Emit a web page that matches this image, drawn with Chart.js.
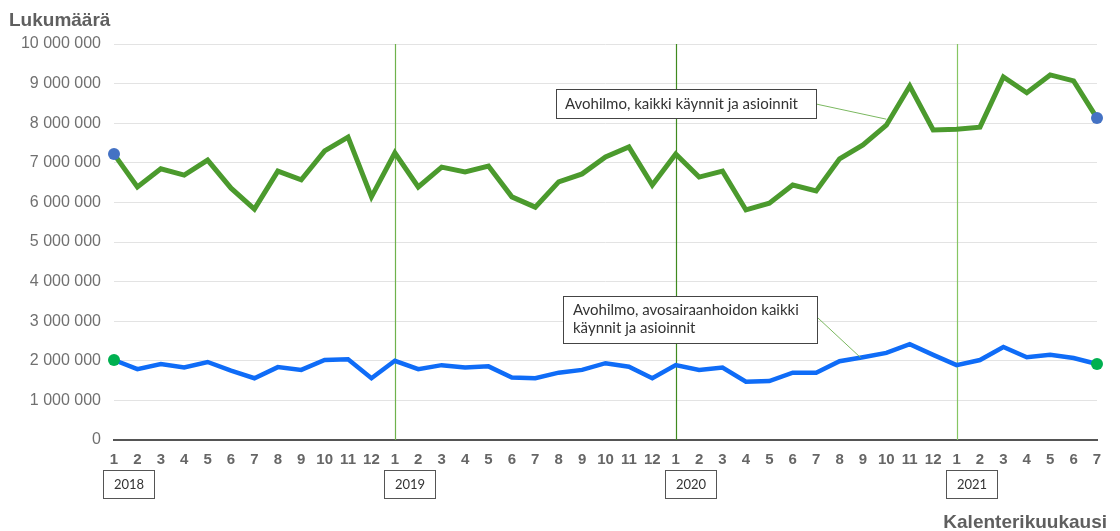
<!DOCTYPE html>
<html>
<head>
<meta charset="utf-8">
<script src="https://cdn.jsdelivr.net/npm/chart.js@4"></script>
<style>
  body { margin:0; background:#fff; }
  #wrap { width:1120px; height:531px; position:relative; }
</style>
</head>
<body>
<div id="wrap"><canvas id="myChart"></canvas></div>
<script>
// kuukaudet 1/2018 - 7/2021
const months = ['1','2','3','4','5','6','7','8','9','10','11','12',
                '1','2','3','4','5','6','7','8','9','10','11','12',
                '1','2','3','4','5','6','7','8','9','10','11','12',
                '1','2','3','4','5','6','7'];
const years = ['2018','2019','2020','2021'];
const yearStart = [0,12,24,36];   // index of month 1 for each year

// Avohilmo, kaikki käynnit ja asioinnit
const kaikki = [7220000,6390000,6850000,6690000,7070000,6360000,5830000,6790000,6570000,7300000,7650000,6140000,
                7250000,6390000,6890000,6770000,6920000,6140000,5880000,6520000,6720000,7150000,7400000,6440000,
                7220000,6640000,6790000,5810000,5980000,6440000,6290000,7100000,7450000,7950000,8940000,7830000,
                7850000,7900000,9170000,8770000,9220000,9070000,8130000];
// Avohilmo, avosairaanhoidon kaikki käynnit ja asioinnit
const avosh = [2020000,1790000,1920000,1830000,1970000,1750000,1560000,1840000,1770000,2020000,2040000,1560000,
               2000000,1790000,1890000,1830000,1860000,1580000,1560000,1700000,1770000,1940000,1850000,1560000,
               1890000,1770000,1830000,1470000,1490000,1700000,1700000,1990000,2090000,2200000,2420000,2150000,
               1890000,2020000,2350000,2090000,2150000,2070000,1920000];

const label1 = 'Avohilmo, kaikki käynnit ja asioinnit';
const label2 = ['Avohilmo, avosairaanhoidon kaikki', 'käynnit ja asioinnit'];

function endRadius(ctx) {
  const n = ctx.dataset.data.length;
  return (ctx.dataIndex === 0 || ctx.dataIndex === n-1) ? 6 : 0;
}

const extras = {
  id: 'extras',
  beforeDatasetsDraw(chart) {
    const c = chart.ctx, a = chart.chartArea, x = chart.scales.x;
    const cols = ['#6fb24c','#3f8a1f','#86c663'];
    c.save();
    c.lineWidth = 1.2;
    for (let i = 1; i < yearStart.length; i++) {
      const px = Math.round(x.getPixelForValue(yearStart[i])) + 0.5;
      c.strokeStyle = cols[i-1];
      c.beginPath(); c.moveTo(px, a.top); c.lineTo(px, a.bottom); c.stroke();
    }
    c.restore();
  },
  afterDraw(chart) {
    const c = chart.ctx, a = chart.chartArea, x = chart.scales.x, y = chart.scales.y;
    c.save();
    // year boxes
    c.font = '13px Lato';
    c.textAlign = 'center'; c.textBaseline = 'middle';
    for (let i = 0; i < years.length; i++) {
      const px = Math.round(x.getPixelForValue(yearStart[i]));
      const bx = px - 11 + 0.5, by = a.bottom + 30.5;
      c.strokeStyle = '#555'; c.lineWidth = 1;
      c.strokeRect(bx, by, 51, 28);
      c.fillStyle = '#333';
      c.fillText(years[i], bx + 25.5, by + 14.5);
    }
    // annotation 1
    c.font = '15px Lato';
    c.textAlign = 'left'; c.textBaseline = 'alphabetic';
    let p = {x: x.getPixelForValue(33), y: y.getPixelForValue(kaikki[33]) - 6};
    c.strokeStyle = '#7bb860'; c.lineWidth = 1;
    c.beginPath(); c.moveTo(816, 104); c.lineTo(p.x, p.y); c.stroke();
    c.fillStyle = '#fff'; c.fillRect(556.5, 89.5, 260, 29);
    c.strokeStyle = '#444'; c.strokeRect(556.5, 89.5, 260, 29);
    c.fillStyle = '#333'; c.fillText(label1, 565, 109);
    // annotation 2
    const px1 = x.getPixelForValue(31), px2 = x.getPixelForValue(32);
    const py1 = y.getPixelForValue(avosh[31]), py2 = y.getPixelForValue(avosh[32]);
    p = {x: px1 + (px2-px1)*0.9, y: py1 + (py2-py1)*0.9};
    c.strokeStyle = '#7bb860';
    c.beginPath(); c.moveTo(818, 318); c.lineTo(p.x, p.y); c.stroke();
    c.fillStyle = '#fff'; c.fillRect(563.5, 296.5, 254, 47);
    c.strokeStyle = '#444'; c.strokeRect(563.5, 296.5, 254, 47);
    c.fillStyle = '#333';
    c.fillText(label2[0], 573, 315);
    c.fillText(label2[1], 573, 333);
    // axis titles
    c.font = 'bold 19px "Liberation Sans", Arial';
    c.fillStyle = '#5f5f5f';
    c.textAlign = 'left';
    c.fillText('Lukumäärä', 9, 26);
    c.textAlign = 'right';
    c.fillText('Kalenterikuukausi', 1107, 528);
    c.restore();
  }
};

const ctx = document.getElementById('myChart').getContext('2d');
const myChart = new Chart(ctx, {
  type: 'line',
  data: {
    labels: months,
    datasets: [{
      label: label1,
      data: kaikki,
      borderColor: '#4b9a2d',
      borderWidth: 5,
      pointRadius: endRadius,
      pointBackgroundColor: '#4472c4',
      pointBorderWidth: 0,
      tension: 0
    }, {
      label: label2.join(' '),
      data: avosh,
      borderColor: '#0f6cf7',
      borderWidth: 4.5,
      pointRadius: endRadius,
      pointBackgroundColor: '#00b050',
      pointBorderWidth: 0,
      tension: 0
    }]
  },
  options: {
    responsive: true,
    maintainAspectRatio: false,
    animation: false,
    layout: { padding: { top: 44, right: 23, left: 0, bottom: 0 } },
    plugins: { legend: { display: false }, tooltip: { enabled: false } },
    scales: {
      x: {
        offset: false,
        grid: { display: false },
        border: { display: true, color: '#555', width: 2 },
        ticks: {
          autoSkip: false, maxRotation: 0, padding: 3,
          color: '#666',
          font: { family: '"Liberation Sans", Arial', size: 15, weight: 'bold' }
        },
        afterFit(scale) { scale.height = 91; }
      },
      y: {
        min: 0, max: 10000000,
        grid: { color: '#e3e3e3', drawTicks: false },
        border: { display: false },
        ticks: {
          stepSize: 1000000, padding: 13,
          color: '#707070',
          font: { family: '"Liberation Sans", Arial', size: 16 },
          callback: v => String(v).replace(/\B(?=(\d{3})+(?!\d))/g, ' ')
        },
        afterFit(scale) { scale.width = 114; }
      }
    }
  },
  plugins: [extras]
});
</script>
</body>
</html>
